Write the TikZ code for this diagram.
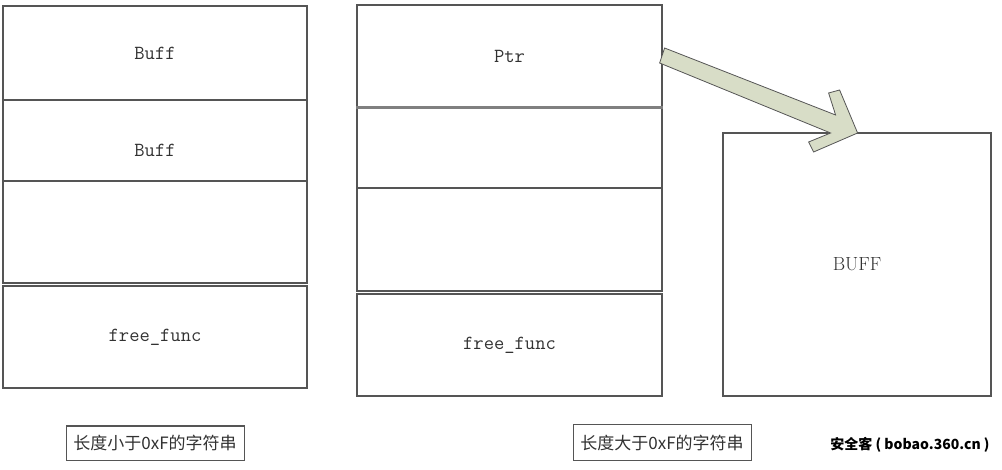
\documentclass[tikz,border=0pt]{standalone}
\usepackage{fontspec}
\newfontfamily\cjk{Noto Sans CJK SC}
\definecolor{linegray}{RGB}{85,85,85}
\definecolor{textgray}{RGB}{50,50,50}
\definecolor{arrowfill}{RGB}{216,221,199}

\begin{document}
\begin{tikzpicture}[x=1pt,y=-1pt]
\tikzstyle{every node}+=[inner sep=0pt]
\tikzstyle{cell}=[draw=linegray, line width=1.2pt, text=textgray, font=\ttfamily\fontsize{20}{20}\selectfont]
\tikzstyle{tag}=[draw=linegray, line width=1pt, text=textgray, font=\cjk\fontsize{17}{17}\selectfont]
\useasboundingbox (0,0) rectangle (1002,470);
\node [cell, minimum width=304pt, minimum height=94pt] (l1) at (155,53) {Buff};
\node [cell, minimum width=304pt, minimum height=81pt] (l2) at (155,140.5) {};
\node [cell, minimum width=304pt, minimum height=102pt] (l3) at (155,232) {};
\node [cell, minimum width=304pt, minimum height=102pt] (l4) at (155,337) {free\_func};
\node [text=textgray, font=\ttfamily\fontsize{20}{20}\selectfont] (l2txt) at (155,150) {Buff};
\node [cell, minimum width=305pt, minimum height=102pt] (r1) at (509.5,56) {Ptr};
\node [cell, minimum width=305pt, minimum height=81pt] (r2) at (509.5,147.5) {};
\node [cell, minimum width=305pt, minimum height=103pt] (r3) at (509.5,239.5) {};
\node [cell, minimum width=305pt, minimum height=102pt] (r4) at (509.5,345) {free\_func};
\draw [line width=3pt, color=gray] (r1.south west) -- (r1.south east);
\node [cell, minimum width=268pt, minimum height=263pt, font=\rmfamily\fontsize{19}{19}\selectfont] (buff) at (857,264.5) {BUFF};
\node [tag, minimum width=178pt, minimum height=34pt] (small) at (155,443) {长度小于0xF的字符串};
\node [tag, minimum width=178pt, minimum height=35pt] (large) at (662,442.5) {长度大于0xF的字符串};
\node [font=\cjk\bfseries\fontsize{14}{14}\selectfont, text=black] (mark) at (910,445) {安全客 ( bobao.360.cn )};
\begin{scope}[shift={(r1.east)}]
\draw [draw=linegray, fill=arrowfill, line width=0.8pt] (2,-8) -- (173,59) -- (166,37) -- (177,34) -- (195,77) -- (151,96) -- (146,86) -- (168,77) -- (-3,7) -- cycle;
\end{scope}
\end{tikzpicture}
\end{document}
